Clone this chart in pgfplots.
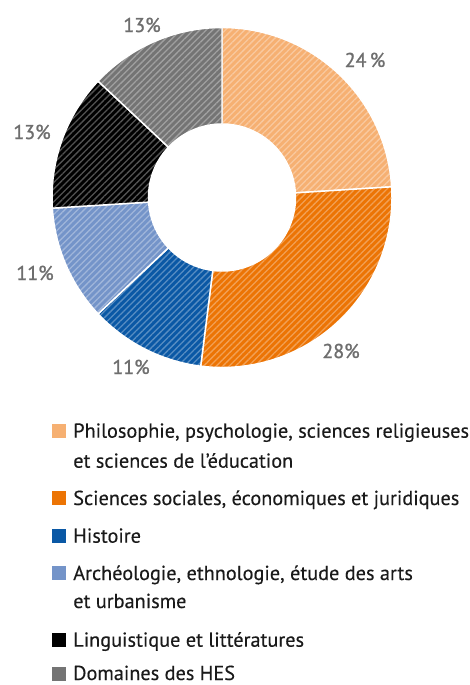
\documentclass[border=0pt]{standalone}
\usepackage{pgfplots}
\pgfplotsset{compat=1.18}
\usepackage{fontspec}
\setmainfont{PT Sans}
\newfontfamily\lblfont{PT Sans}[FakeBold=1.2]
\newfontfamily\legfont{PT Sans}[FakeBold=0.3]
\usetikzlibrary{patterns.meta}

\definecolor{philo}{HTML}{F6B072}
\definecolor{socio}{HTML}{EC7404}
\definecolor{hist}{HTML}{0A58A5}
\definecolor{archeo}{HTML}{7494C9}
\definecolor{ling}{HTML}{000000}
\definecolor{hes}{HTML}{747474}
\definecolor{lbl}{HTML}{6E6E6E}
\definecolor{txt}{HTML}{1A1A1A}

% one ring segment: start (percent), share (percent), colour
% centre (222,197.5) px, radii 170 px and 73.5 px (1 px = 0.75 pt)
\newcommand{\slice}[3]{%
  \path[preaction={fill=#3},
        preaction={pattern={Lines[angle=45,distance=3.4pt,line width=1pt]},
                   pattern color=#3!68!white},
        draw=white, line width=1.1pt]
    (axis cs:222,197.5) ++({90-3.6*(#1)}:127.5pt)
    arc[start angle={90-3.6*(#1)}, delta angle={-3.6*(#2)}, radius=127.5pt]
    -- ++({90-3.6*(#1+#2)}:-72.375pt)
    arc[start angle={90-3.6*(#1+#2)}, delta angle={3.6*(#2)}, radius=55.125pt]
    -- cycle;
}

\begin{document}
\begin{tikzpicture}
\begin{axis}[
    x=0.75pt, y=0.75pt, y dir=reverse,
    xmin=0, xmax=470, ymin=0, ymax=685,
    hide axis, clip=false,
  ]
  % shares in percent, clockwise from twelve o'clock
  \slice{0}{24}{philo}
  \slice{24}{28}{socio}
  \slice{52}{11}{hist}
  \slice{63}{11}{archeo}
  \slice{74}{13}{ling}
  \slice{87}{13}{hes}

  % value labels
  \begin{scope}[every node/.style={font=\lblfont\fontsize{15pt}{18pt}\selectfont, text=lbl}]
    \node at (axis cs:365,60) {24\,\%};
    \node at (axis cs:341,351) {28\%};
    \node at (axis cs:131,367) {11\%};
    \node at (axis cs:35,273) {11\%};
    \node at (axis cs:32,132) {13\%};
    \node at (axis cs:142,25) {13\%};
  \end{scope}

  % legend
  \begin{scope}[every node/.style={anchor=base west, inner sep=0pt,
      font=\legfont\fontsize{15.2pt}{18pt}\selectfont, text=txt}]
    \fill[philo] (axis cs:52,424) rectangle (axis cs:66,438);
    \node at (axis cs:73,437.7) {Philosophie, psychologie, sciences religieuses};
    \node at (axis cs:73,467.7) {et sciences de l’éducation};
    \fill[socio] (axis cs:52,490.5) rectangle (axis cs:66,504.5);
    \node at (axis cs:73,505) {Sciences sociales, économiques et juridiques};
    \fill[hist] (axis cs:52,528.5) rectangle (axis cs:66,542.5);
    \node at (axis cs:73,542.7) {Histoire};
    \fill[archeo] (axis cs:52,565.5) rectangle (axis cs:66,579.5);
    \node at (axis cs:73,580) {Archéologie, ethnologie, étude des arts};
    \node at (axis cs:73,608) {et urbanisme};
    \fill[ling] (axis cs:52,632.5) rectangle (axis cs:66,646.5);
    \node at (axis cs:73,646.7) {Linguistique et littératures};
    \fill[hes] (axis cs:52,666.5) rectangle (axis cs:66,680.5);
    \node at (axis cs:73,680) {Domaines des HES};
  \end{scope}
\end{axis}
\pgfresetboundingbox
\path (0,0) rectangle (352.5pt,513.75pt);
\end{tikzpicture}
\end{document}
